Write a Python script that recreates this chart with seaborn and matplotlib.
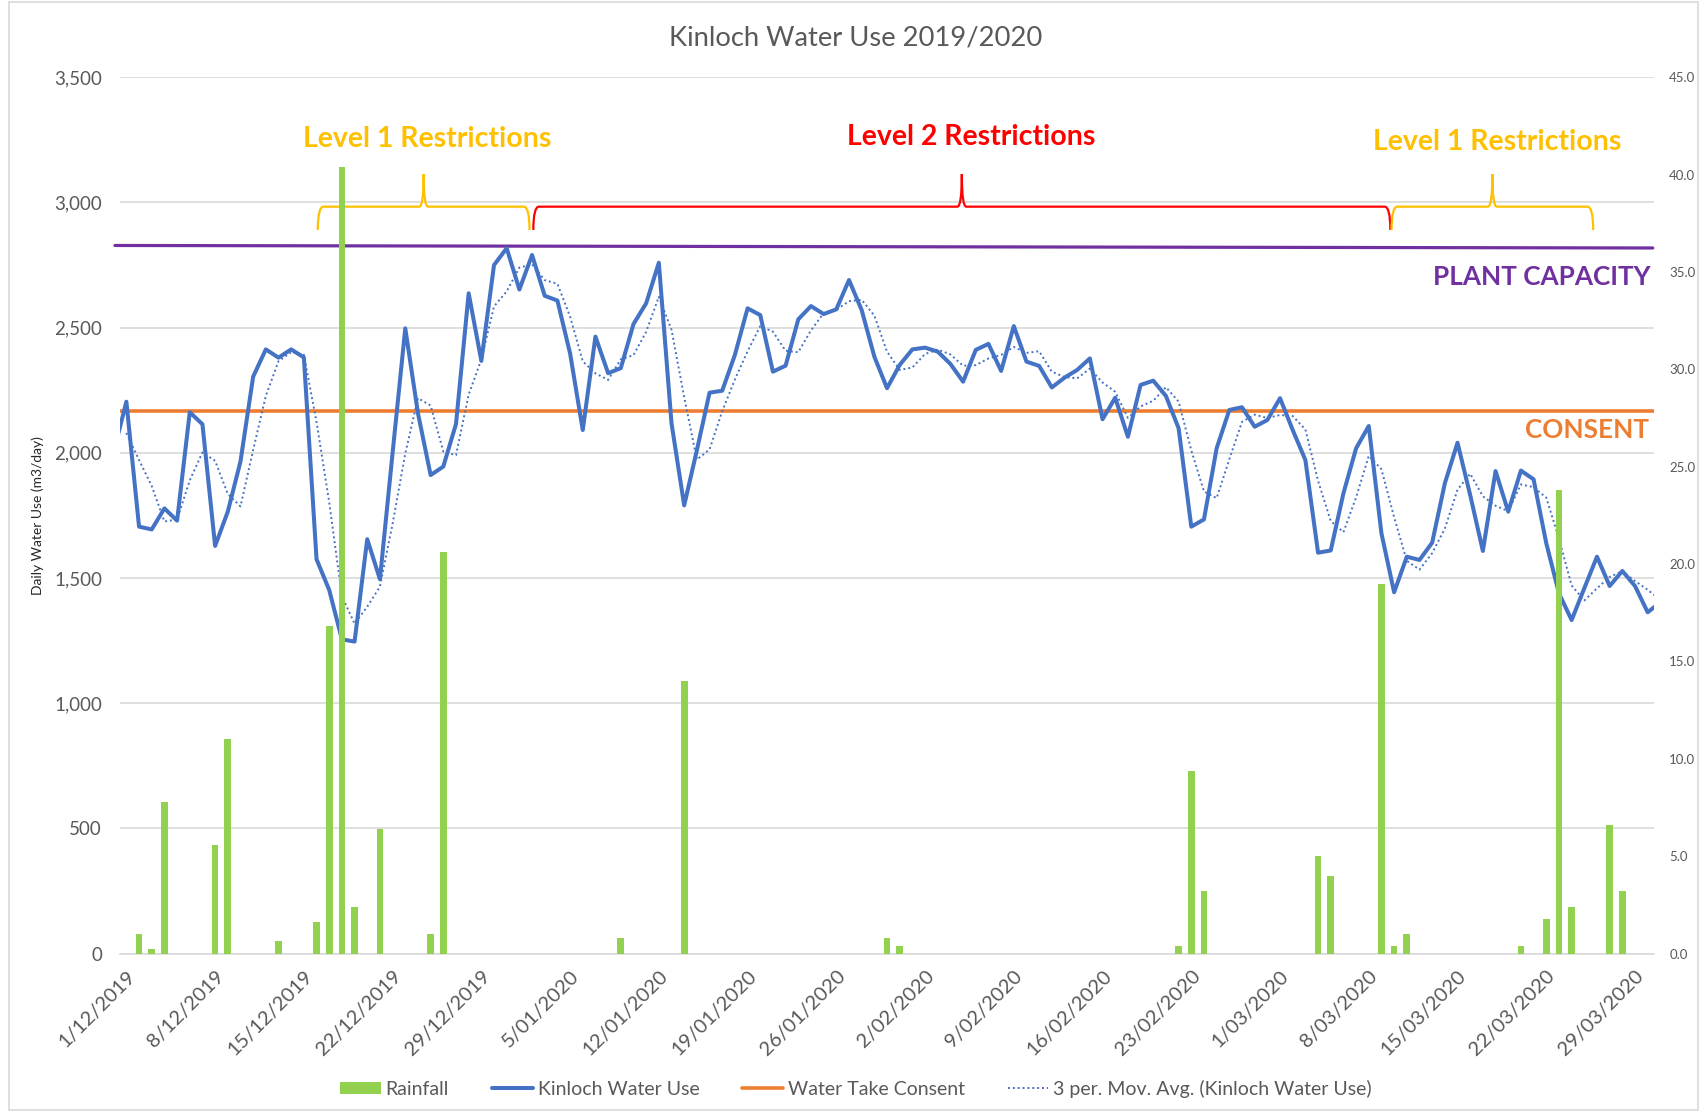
import numpy as np
import pandas as pd
import matplotlib
matplotlib.use("Agg")
import matplotlib.pyplot as plt
import seaborn as sns
from matplotlib.path import Path
from matplotlib.patches import PathPatch, Rectangle, Patch
from matplotlib.lines import Line2D

# ---------------- data ----------------
dates = pd.date_range("2019-11-29", "2020-03-31", freq="D")

water_use = [
    2030, 2004,                                              # 29/11, 30/11
    2204, 1705, 1694, 1778, 1729, 2162, 2114, 1628, 1765, 1965,   # 1/12 - 10/12
    2304, 2413, 2380, 2413, 2381, 1575, 1452, 1255, 1246, 1655,   # 11/12 - 20/12
    1495, 2000, 2497, 2158, 1911, 1945, 2115, 2637, 2367, 2750,   # 21/12 - 30/12
    2817, 2652, 2790, 2627, 2608, 2397, 2091, 2464, 2318, 2338,   # 31/12 - 9/01
    2514, 2597, 2759, 2118, 1790, 2010, 2240, 2248, 2391, 2577,   # 10/01 - 19/01
    2550, 2324, 2348, 2533, 2586, 2554, 2573, 2690, 2570, 2384,   # 20/01 - 29/01
    2258, 2351, 2413, 2420, 2404, 2355, 2284, 2411, 2435, 2327,   # 30/01 - 8/02
    2506, 2364, 2347, 2261, 2300, 2331, 2377, 2134, 2220, 2064,   # 9/02 - 18/02
    2271, 2288, 2227, 2098, 1705, 1734, 2018, 2171, 2182, 2104,   # 19/02 - 28/02
    2131, 2218, 2091, 1971, 1601, 1610, 1838, 2018, 2107, 1678,   # 29/02 - 9/03
    1443, 1585, 1572, 1641, 1878, 2040, 1831, 1608, 1927, 1765,   # 10/03 - 19/03
    1929, 1894, 1639, 1439, 1332, 1459, 1585, 1468, 1528, 1468,   # 20/03 - 29/03
    1363, 1403,                                              # 30/03, 31/03
]

rain_dates = ["2019-12-02", "2019-12-03", "2019-12-04", "2019-12-08", "2019-12-09",
              "2019-12-13", "2019-12-16", "2019-12-17", "2019-12-18", "2019-12-19",
              "2019-12-21", "2019-12-25", "2019-12-26", "2020-01-09", "2020-01-14",
              "2020-01-30", "2020-01-31", "2020-02-22", "2020-02-23", "2020-02-24",
              "2020-03-04", "2020-03-05", "2020-03-09", "2020-03-10", "2020-03-11",
              "2020-03-20", "2020-03-22", "2020-03-23", "2020-03-24", "2020-03-27",
              "2020-03-28"]
rain_mm = [1.0, 0.22, 7.8, 5.6, 11.0,
           0.65, 1.6, 16.8, 40.4, 2.4,
           6.4, 1.0, 20.6, 0.8, 14.0,
           0.8, 0.4, 0.4, 9.4, 3.2,
           5.0, 4.0, 19.0, 0.4, 1.0,
           0.4, 1.8, 23.8, 2.4, 6.6,
           3.2]

consent_value = 2167
plant_capacity = [2828, 2818]          # start, end of drawn capacity line

# restriction periods (fractional day index from 1/12/2019)
restr_spans = [(15.1, 31.8), (32.1, 99.7), (99.8, 115.7)]
restr_label_x = [23.7, 66.6, 108.1]
restr_label_y = [3255, 3262, 3240]
restr_labels = ["Level 1 Restrictions", "Level 2 Restrictions", "Level 1 Restrictions"]
restr_colors = ["#FFC000", "#FF0000", "#FFC000"]

left_ticks = [0, 500, 1000, 1500, 2000, 2500, 3000, 3500]
right_ticks = [0, 5, 10, 15, 20, 25, 30, 35, 40, 45]

# ---------------- frame ----------------
start = pd.Timestamp("2019-12-01")
day = np.array([(d - start).days for d in dates])
rain_series = pd.Series(0.0, index=dates)
rain_series[pd.to_datetime(rain_dates)] = rain_mm
df = pd.DataFrame({"day": day, "use": water_use, "rain": rain_series.values})
df["ma"] = df["use"].rolling(3).mean()
df["consent"] = consent_value

sns.set_theme(style="white")
plt.rcParams["font.family"] = ["Lato", "DejaVu Sans"]

GREY = "#595959"
BLUE = "#4472C4"
ORANGE = "#ED7D31"
PURPLE = "#7030A0"
GREEN = "#92D050"

fig = plt.figure(figsize=(17.05, 11.11), dpi=100)
ax = fig.add_axes([0.0704, 0.1417, 0.8997, 0.7888])

sns.lineplot(data=df, x="day", y="consent", ax=ax, color=ORANGE, linewidth=2.6, zorder=3)
sns.lineplot(data=df, x="day", y="use", ax=ax, color=BLUE, linewidth=2.9, zorder=4)
sns.lineplot(data=df.dropna(), x="day", y="ma", ax=ax, color=BLUE, linewidth=1.4,
             linestyle=(0, (1, 1.5)), zorder=4)
ax.plot([-0.9, 120.4], plant_capacity, color=PURPLE, linewidth=2.3, clip_on=False, zorder=3)

ax.set_xlim(-0.5, 120.5)
ax.set_ylim(0, 3500)
ax.set_yticks(left_ticks)
ax.set_yticklabels([f"{v:,}" for v in left_ticks], fontsize=13.5, color=GREY)
ax.yaxis.grid(True, color="#D9D9D9", linewidth=1.2)
ax.set_axisbelow(True)
ax.tick_params(axis="y", length=0, pad=13)
xt = list(range(0, 120, 7))
ax.set_xticks(xt)
ax.set_xticklabels([f"{(start + pd.Timedelta(days=t)).day}/{(start + pd.Timedelta(days=t)).month:02d}/"
                    f"{(start + pd.Timedelta(days=t)).year}" for t in xt],
                   rotation=45, ha="right", va="top", rotation_mode="anchor",
                   fontsize=14.5, color=GREY)
ax.tick_params(axis="x", length=0, pad=10)
ax.set_xlabel("")
ax.set_ylabel("")
for s in ["top", "left", "right"]:
    ax.spines[s].set_visible(False)
ax.spines["bottom"].set_color("#D9D9D9")
ax.spines["bottom"].set_linewidth(1.2)

ax2 = ax.twinx()
sns.barplot(data=df, x="day", y="rain", native_scale=True, ax=ax2, color=GREEN,
            width=0.53, errorbar=None, linewidth=0, saturation=1)
ax2.set_xlim(-0.5, 120.5)
ax2.set_ylim(0, 45)
ax2.set_yticks(right_ticks)
ax2.set_yticklabels([f"{v:.1f}" for v in right_ticks], fontsize=9.5, color=GREY)
ax2.tick_params(axis="y", length=0, pad=11)
ax2.set_ylabel("")
ax2.set_xlabel("")
for s in ["top", "left", "right", "bottom"]:
    ax2.spines[s].set_visible(False)
ax2.grid(False)

# restriction braces
y_end, y_flat, y_tip = 2890, 2983, 3113
for (x0, x1), lx, ly, lab, col in zip(restr_spans, restr_label_x, restr_label_y,
                                      restr_labels, restr_colors):
    xm = (x0 + x1) / 2
    r, r2 = 0.45, 0.35
    verts = [(x0, y_end), (x0, y_flat), (x0 + r, y_flat),
             (xm - r2, y_flat),
             (xm, y_flat), (xm, y_tip),
             (xm, y_flat), (xm + r2, y_flat),
             (x1 - r, y_flat),
             (x1, y_flat), (x1, y_end)]
    codes = [Path.MOVETO, Path.CURVE3, Path.CURVE3,
             Path.LINETO,
             Path.CURVE3, Path.CURVE3,
             Path.CURVE3, Path.CURVE3,
             Path.LINETO,
             Path.CURVE3, Path.CURVE3]
    ax.add_patch(PathPatch(Path(verts, codes), facecolor="none", edgecolor=col,
                           linewidth=1.6, clip_on=False, zorder=5))
    ax.text(lx, ly, lab, color=col, fontsize=20.5, fontweight="bold",
            ha="center", va="center")

ax.text(120.2, 2701, "PLANT CAPACITY", color=PURPLE, fontsize=18.8, fontweight="bold",
        ha="right", va="center", zorder=6)
ax.text(120.1, 2093, "CONSENT", color=ORANGE, fontsize=18.8, fontweight="bold",
        ha="right", va="center", zorder=6)

fig.text(0.502, 0.9655, "Kinloch Water Use 2019/2020", ha="center", va="center",
         fontsize=19.7, color=GREY)
fig.text(0.0223, 0.5356, "Daily Water Use (m3/day)", rotation=90, ha="center", va="center",
         fontsize=10, color="#262626")

handles = [Patch(facecolor=GREEN, edgecolor="none"),
           Line2D([], [], color=BLUE, linewidth=2.9),
           Line2D([], [], color=ORANGE, linewidth=2.6),
           Line2D([], [], color=BLUE, linewidth=1.4, linestyle=(0, (1, 1.5)))]
labels = ["Rainfall", "Kinloch Water Use", "Water Take Consent",
          "3 per. Mov. Avg. (Kinloch Water Use)"]
fig.legend(handles, labels, loc="center", bbox_to_anchor=(0.502, 0.020), ncol=4,
           frameon=False, fontsize=14, handlelength=2.1, handleheight=0.6,
           columnspacing=2.2, handletextpad=0.25, labelcolor=GREY)

fig.patches.append(Rectangle((0.005, 0.001), 0.991, 0.997, transform=fig.transFigure,
                             fill=False, edgecolor="#D9D9D9", linewidth=1.2))

fig.savefig("out.png", dpi=100)
